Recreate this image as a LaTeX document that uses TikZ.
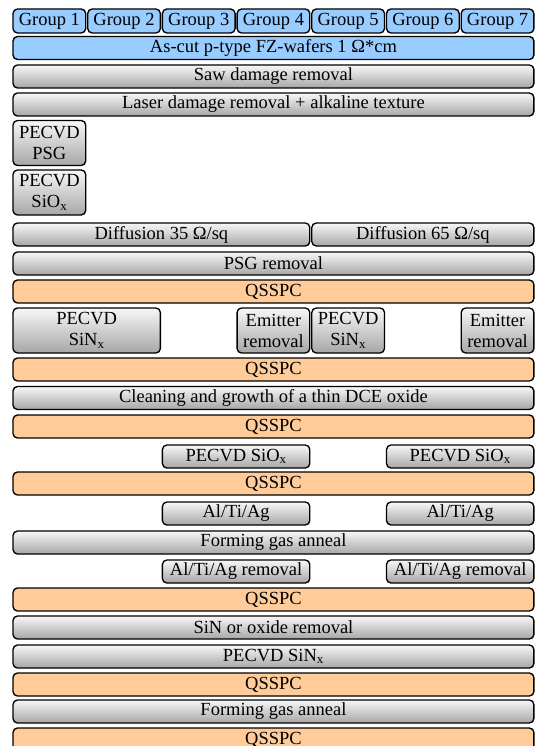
\documentclass[tikz,border=0pt]{standalone}
\usepackage{fontspec}
\setmainfont{Liberation Serif}
\usepackage{xcolor}
\usepackage{tikz}
\definecolor{skyblue}{HTML}{99CCFF}
\definecolor{peach}{HTML}{FFCC99}
\definecolor{steelgrey}{HTML}{A6A6A6}

\begin{document}
\begin{tikzpicture}[x=1pt,y=-1pt,
  box/.style={draw=black,line width=1.35pt,rounded corners=4.5pt,inner sep=0pt,
    align=center,font=\fontsize{18.5}{21}\selectfont,minimum height=23pt},
  greybox/.style={box,top color=gray!6,bottom color=steelgrey},
  bluebox/.style={box,fill=skyblue},
  qbox/.style={box,fill=peach,minimum width=520.9pt},
  tall/.style={minimum height=45pt},
  full/.style={minimum width=520.9pt},
  one/.style={minimum width=72.7pt},
  two/.style={minimum width=147.4pt}]
\useasboundingbox (0,0) rectangle (537,746);
\clip (0,0) rectangle (537,746);
% groups and wafers
\foreach \i in {1,...,7}{
  \node[bluebox,one,minimum height=24pt] (g\i) at ({49.35+(\i-1)*74.7},21) {Group \i};}
\node[bluebox,full] (wafer) at (273.45,48) {As-cut p-type FZ-wafers 1 Ω*cm};
\node[greybox,full] (saw) at (273.45,76.5) {Saw damage removal};
\node[greybox,full] (laser) at (273.45,104.5) {Laser damage removal + alkaline texture};
\node[greybox,one,tall] (psg) at (49.35,143) {PECVD\\PSG};
\node[greybox,one,tall] (siox) at (49.35,192.5) {PECVD\\SiO\textsubscript{x}};
% diffusion
\node[greybox,minimum width=296.8pt] (diff35) at (161.4,234.5) {Diffusion 35 Ω/sq};
\node[greybox,minimum width=222.1pt] (diff65) at (422.85,234.5) {Diffusion 65 Ω/sq};
\node[greybox,full] (psgrem) at (273.45,263.5) {PSG removal};
% front side
\node[greybox,two,tall] (sinxa) at (86.7,330.5) {PECVD\\SiN\textsubscript{x}};
\node[greybox,one,tall] (emita) at (273.45,330.5) {Emitter\\removal};
\node[greybox,one,tall] (sinxb) at (348.15,330.5) {PECVD\\SiN\textsubscript{x}};
\node[greybox,one,tall] (emitb) at (497.55,330.5) {Emitter\\removal};
\node[greybox,full] (clean) at (273.45,398) {Cleaning and growth of a thin DCE oxide};
% contacts
\node[greybox,two] (sioxa) at (236.1,456.5) {PECVD SiO\textsubscript{x}};
\node[greybox,two] (sioxb) at (460.2,456.5) {PECVD SiO\textsubscript{x}};
\node[greybox,two] (metala) at (236.1,513.5) {Al/Ti/Ag};
\node[greybox,two] (metalb) at (460.2,513.5) {Al/Ti/Ag};
\node[greybox,full] (fga) at (273.45,542.5) {Forming gas anneal};
\node[greybox,two] (metrema) at (236.1,571.5) {Al/Ti/Ag removal};
\node[greybox,two] (metremb) at (460.2,571.5) {Al/Ti/Ag removal};
\node[greybox,full] (sinrem) at (273.45,627.5) {SiN or oxide removal};
\node[greybox,full] (sinxc) at (273.45,656.5) {PECVD SiN\textsubscript{x}};
\node[greybox,full] (fgb) at (273.45,711.5) {Forming gas anneal};
% lifetime measurements
\foreach \y/\n in {291.5/1,369.5/2,426.5/3,483.5/4,599.5/5,684.5/6,739.5/7}{
  \node[qbox] (qsspc\n) at (273.45,\y) {QSSPC};}
\end{tikzpicture}
\end{document}
